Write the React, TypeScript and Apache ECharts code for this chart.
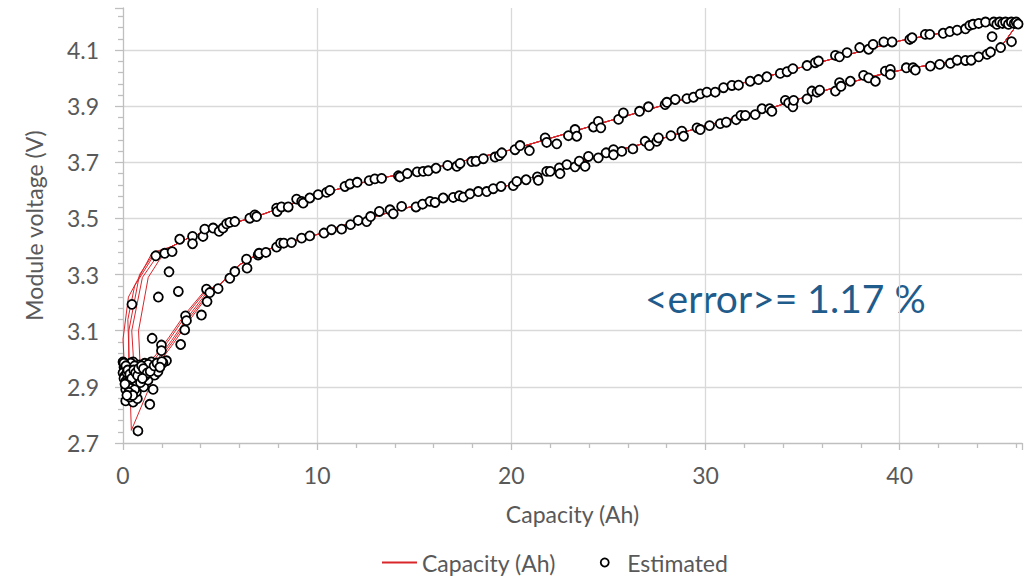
import React, { useEffect, useRef } from "react";
import * as echarts from "echarts";

// ---------- Tick / axis values ----------
const xMin = 0;
const xMax = 46.3;
const xInterval = 10;
const yMin = 2.7;
const yMax = 4.25;
const yInterval = 0.2;

const annotationText = "<error>= 1.17 %";

// ---------- Measured line ("Capacity (Ah)"), shared parts of each cycle ----------
const chargeCommon: number[][] = [
  [2.5, 3.4], [3.5, 3.435], [5, 3.47], [7, 3.51], [10, 3.585], [13, 3.64], [16, 3.68],
  [20, 3.745], [25, 3.847], [30, 3.947], [35, 4.04], [40, 4.133], [43, 4.172], [45, 4.195], [46.1, 4.2],
];
const dischargeCommon: number[][] = [
  [46.1, 4.2], [45.85, 4.172], [45.2, 4.11], [44.5, 4.085], [43, 4.063], [40.5, 4.035], [38.5, 4.005],
  [37, 3.975], [35, 3.93], [33, 3.885], [30, 3.83], [27, 3.77], [25, 3.735], [22, 3.67], [20, 3.62],
  [17, 3.578], [15, 3.545], [12, 3.49], [10, 3.443], [8, 3.405], [7, 3.375], [6, 3.335], [5, 3.265],
];

// low-capacity ends of each cycle
const lowCharge1: number[][] = [[0.1, 2.93], [0.0, 3.07], [0.28, 3.22], [1.5, 3.378]];
const lowCharge2: number[][] = [[0.43, 2.745], [0.25, 3.14], [0.6, 3.26], [1.6, 3.37]];
const lowCharge3: number[][] = [[0.6, 2.93], [0.45, 3.1], [1.0, 3.29], [1.7, 3.36]];
const lowCharge4: number[][] = [[0.9, 2.95], [0.8, 3.1], [1.3, 3.29], [1.85, 3.35]];
const lowCharge5: number[][] = [[0.3, 2.95], [0.3, 3.1], [0.85, 3.3], [1.55, 3.372]];

const lowDischarge1: number[][] = [[4.3, 3.235], [3.3, 3.145], [2.5, 3.065], [1.8, 3.0], [1.0, 2.96], [0.5, 2.935], [0.1, 2.93]];
const lowDischarge2: number[][] = [[4.25, 3.24], [3.2, 3.15], [2.4, 3.07], [1.7, 3.005], [1.37, 2.9], [0.43, 2.745]];
const lowDischarge3: number[][] = [[4.35, 3.23], [3.35, 3.14], [2.55, 3.06], [1.85, 2.995], [1.2, 2.96], [0.6, 2.93]];
const lowDischarge4: number[][] = [[4.4, 3.228], [3.4, 3.135], [2.6, 3.055], [1.9, 2.99], [1.3, 2.96], [0.9, 2.95]];
const lowDischarge5: number[][] = [[4.2, 3.242], [3.15, 3.155], [2.35, 3.075], [1.65, 3.01], [0.9, 2.97], [0.3, 2.95]];

// ---------- Estimated points ----------
const estCharge: number[][] = [
  [1.69, 3.367], [2.15, 3.376], [2.53, 3.382], [2.92, 3.426], [3.58, 3.436], [3.58, 3.41], [4.12, 3.436],
  [4.21, 3.462], [4.64, 3.466], [4.95, 3.454], [5.15, 3.466], [5.33, 3.481], [5.5, 3.486], [5.76, 3.489],
  [6.53, 3.501], [6.79, 3.513], [6.88, 3.507], [7.91, 3.537], [7.94, 3.525], [8.16, 3.541], [8.51, 3.541],
  [8.94, 3.569], [9.2, 3.561], [9.28, 3.555], [9.62, 3.573], [10.05, 3.585], [10.48, 3.593], [10.65, 3.6],
  [11.43, 3.614], [11.69, 3.623], [12.06, 3.629], [12.68, 3.635], [12.97, 3.641], [13.32, 3.643],
  [14.18, 3.652], [14.26, 3.648], [14.64, 3.66], [15.15, 3.666], [15.46, 3.668], [15.72, 3.67],
  [16.12, 3.679], [16.72, 3.689], [17.19, 3.686], [17.36, 3.696], [17.96, 3.703], [18.18, 3.704],
  [18.56, 3.713], [19.16, 3.719], [19.38, 3.724], [19.51, 3.734], [20.19, 3.745], [20.45, 3.76],
  [20.93, 3.742], [21.74, 3.787], [21.82, 3.771], [22.34, 3.766], [22.94, 3.795], [23.28, 3.817],
  [23.37, 3.793], [24.23, 3.826], [24.48, 3.846], [24.61, 3.823], [25.52, 3.853], [25.77, 3.876],
  [26.6, 3.882], [27.06, 3.898], [27.92, 3.906], [28.01, 3.914], [28.44, 3.924], [29.04, 3.927],
  [29.38, 3.932], [29.73, 3.944], [30.07, 3.95], [30.5, 3.95], [30.93, 3.966], [31.36, 3.974],
  [31.7, 3.975], [32.3, 3.989], [32.73, 3.995], [33.16, 4.005], [33.85, 4.017], [34.2, 4.023],
  [34.5, 4.034], [35.23, 4.045], [35.65, 4.055], [35.82, 4.061], [36.69, 4.081], [36.9, 4.076],
  [37.29, 4.091], [37.94, 4.109], [38.4, 4.103], [38.63, 4.12], [39.18, 4.129], [39.61, 4.129],
  [40.52, 4.138], [40.64, 4.144], [41.32, 4.156], [41.55, 4.156], [42.24, 4.16], [42.58, 4.166],
  [42.96, 4.171], [43.39, 4.176], [43.61, 4.188], [43.78, 4.192], [44.07, 4.195], [44.42, 4.2],
  [44.85, 4.2], [45.0, 4.192], [45.15, 4.2], [45.3, 4.195], [45.45, 4.2], [45.6, 4.192], [45.75, 4.2],
  [45.9, 4.195], [46.0, 4.2], [46.1, 4.193],
];

const estDischarge: number[][] = [
  [2.97, 3.051], [3.18, 3.103], [3.22, 3.153], [3.27, 3.136], [4.04, 3.156], [4.33, 3.204], [4.3, 3.248],
  [4.47, 3.236], [4.9, 3.25], [5.5, 3.287], [5.76, 3.311], [6.36, 3.355], [6.39, 3.323], [6.96, 3.37],
  [7.01, 3.376], [7.36, 3.379], [7.91, 3.398], [8.11, 3.412], [8.28, 3.412], [8.68, 3.414], [9.2, 3.43],
  [9.62, 3.438], [10.35, 3.448], [10.74, 3.46], [11.26, 3.462], [11.72, 3.478], [12.11, 3.493],
  [12.55, 3.489], [12.75, 3.507], [13.2, 3.525], [13.75, 3.531], [13.92, 3.517], [14.35, 3.543],
  [15.09, 3.541], [15.43, 3.551], [15.81, 3.561], [16.07, 3.557], [16.49, 3.573], [17.01, 3.575],
  [17.32, 3.581], [17.53, 3.576], [17.87, 3.588], [18.3, 3.596], [18.73, 3.596], [19.07, 3.606],
  [19.47, 3.614], [20.1, 3.617], [20.28, 3.632], [20.76, 3.638], [21.34, 3.648], [21.39, 3.636],
  [21.82, 3.668], [22.0, 3.668], [22.47, 3.68], [22.51, 3.66], [22.86, 3.692], [23.28, 3.684],
  [23.5, 3.704], [23.8, 3.686], [23.97, 3.721], [24.48, 3.716], [24.88, 3.734], [25.26, 3.745],
  [25.26, 3.727], [25.69, 3.739], [26.26, 3.748], [26.89, 3.775], [27.11, 3.76], [27.49, 3.775],
  [27.58, 3.787], [28.22, 3.795], [28.78, 3.811], [28.87, 3.793], [29.56, 3.823], [29.73, 3.817],
  [30.21, 3.831], [30.76, 3.838], [31.07, 3.843], [31.58, 3.852], [31.82, 3.867], [32.05, 3.867],
  [32.56, 3.87], [32.91, 3.891], [33.3, 3.891], [33.42, 3.882], [34.11, 3.921], [34.28, 3.912],
  [34.5, 3.898], [34.54, 3.921], [35.23, 3.926], [35.48, 3.954], [35.74, 3.95], [35.88, 3.957],
  [36.69, 3.954], [36.9, 3.984], [36.98, 3.971], [37.46, 3.989], [38.14, 4.01], [38.4, 4.001],
  [38.75, 3.989], [39.26, 4.025], [39.52, 4.031], [39.52, 4.013], [40.34, 4.037], [40.69, 4.037],
  [40.81, 4.029], [41.58, 4.043], [42.06, 4.049], [42.61, 4.053], [42.96, 4.064], [43.39, 4.063],
  [43.68, 4.064], [44.07, 4.076], [44.5, 4.085], [44.68, 4.093], [45.2, 4.109], [45.76, 4.13],
  [44.76, 4.148],
];

const estLow: number[][] = [
  [0.46, 3.194], [1.82, 3.22], [2.85, 3.24], [2.37, 3.31], [1.5, 3.073], [1.98, 3.049], [1.98, 3.029],
  [2.24, 2.993], [2.06, 2.986], [0.0, 2.989], [0.52, 2.989], [0.05, 2.97], [0.1, 2.96], [0.0, 2.95],
  [0.1, 2.94], [0.05, 2.93], [0.15, 2.92], [0.2, 2.91], [0.14, 2.891], [0.14, 2.85], [0.52, 2.846],
  [0.74, 2.858], [0.35, 2.864], [0.69, 2.882], [0.77, 2.902], [1.07, 2.9], [1.55, 2.891], [1.38, 2.838],
  [0.77, 2.743], [0.6, 2.942], [0.86, 2.93], [1.03, 2.948], [1.2, 2.96], [1.38, 2.969], [1.46, 2.989],
  [1.55, 2.966], [1.72, 2.971], [1.89, 2.984], [1.12, 2.984], [0.86, 2.978], [0.69, 2.966], [0.43, 2.954],
  [0.26, 2.936], [0.35, 2.924], [0.52, 2.912], [1.29, 2.924], [1.63, 2.942], [1.8, 2.954], [0.3, 2.97],
  [0.2, 2.95], [0.95, 2.955], [1.15, 2.94], [0.4, 2.985], [0.6, 2.975], [1.3, 2.98],
  [0.05, 2.985], [0.15, 2.975], [0.25, 2.96], [0.35, 2.945], [0.45, 2.93], [0.55, 2.96], [0.65, 2.95],
  [0.75, 2.94], [0.8, 2.965], [0.95, 2.975], [1.05, 2.965], [1.25, 2.95], [1.4, 2.955], [1.6, 2.975],
  [1.75, 2.985], [2.0, 2.99], [1.9, 2.97], [0.25, 2.905], [0.4, 2.895], [0.6, 2.89], [0.9, 2.915],
  [1.0, 2.93], [0.1, 2.91], [0.3, 2.88], [0.5, 2.87], [0.2, 2.87],
];

const cycles: number[][][] = [
  [...lowCharge1, ...chargeCommon, ...dischargeCommon, ...lowDischarge1],
  [...lowCharge2, ...chargeCommon, ...dischargeCommon, ...lowDischarge2],
  [...lowCharge3, ...chargeCommon, ...dischargeCommon, ...lowDischarge3],
  [...lowCharge4, ...chargeCommon, ...dischargeCommon, ...lowDischarge4],
  [...lowCharge5, ...chargeCommon, ...dischargeCommon, ...lowDischarge5],
];

const FONT = "Lato";
const TEXT_COLOR = "#595959";
const RED = "#d9262b";
const FS = 23;

export default function App() {
  const ref = useRef<HTMLDivElement>(null);

  useEffect(() => {
    if (!ref.current) return;
    const chart = echarts.init(ref.current, undefined, { renderer: "svg" });

    const lineSeries = cycles.map((c) => ({
      name: "Capacity (Ah)",
      type: "line",
      data: c,
      symbol: "none",
      showSymbol: false,
      lineStyle: { color: RED, width: 1 },
      itemStyle: { color: RED },
      z: 2,
    }));

    const option: any = {
      animation: false,
      textStyle: { fontFamily: FONT },
      grid: { left: 123, right: 3, top: 8, bottom: 135, containLabel: false },
      legend: {
        data: [
          { name: "Capacity (Ah)", itemStyle: { opacity: 0 } },
          { name: "Estimated", icon: "circle", itemStyle: { color: "#ffffff", borderColor: "#000", borderWidth: 1.8 } },
        ],
        left: 381,
        top: 551,
        padding: 0,
        itemWidth: 35,
        itemHeight: 8,
        itemGap: 44,
        textStyle: { fontFamily: FONT, fontSize: FS, color: TEXT_COLOR },
      },
      xAxis: {
        type: "value",
        min: xMin,
        max: xMax,
        interval: xInterval,
        name: "Capacity (Ah)",
        nameLocation: "middle",
        nameGap: 59,
        nameTextStyle: { fontFamily: FONT, fontSize: FS, color: TEXT_COLOR },
        axisLine: { show: true, lineStyle: { color: "#bfbfbf", width: 1.3 } },
        axisTick: { show: true, length: 7, lineStyle: { color: "#bfbfbf", width: 1.3 } },
        minorTick: { show: true, splitNumber: 5, length: 5, lineStyle: { color: "#bfbfbf", width: 1.3 } },
        axisLabel: { fontFamily: FONT, fontSize: FS, color: TEXT_COLOR, margin: 20, showMaxLabel: false },
        splitLine: { show: true, showMinLine: false, showMaxLine: false, lineStyle: { color: "#d9d9d9", width: 1.3 } },
      },
      yAxis: {
        type: "value",
        min: yMin,
        max: yMax,
        interval: yInterval,
        name: "Module voltage (V)",
        nameLocation: "middle",
        nameGap: 78,
        nameRotate: 90,
        nameTextStyle: { fontFamily: FONT, fontSize: FS, color: TEXT_COLOR },
        axisLine: { show: true, lineStyle: { color: "#bfbfbf", width: 1.3 } },
        axisTick: { show: true, length: 8, lineStyle: { color: "#bfbfbf", width: 1.3 } },
        minorTick: { show: true, splitNumber: 5, length: 5, lineStyle: { color: "#bfbfbf", width: 1.3 } },
        axisLabel: {
          fontFamily: FONT,
          fontSize: FS,
          color: TEXT_COLOR,
          margin: 24,
          showMaxLabel: false,
          formatter: (v: number) => v.toFixed(1),
        },
        splitLine: { show: true, showMinLine: false, showMaxLine: false, lineStyle: { color: "#d9d9d9", width: 1.3 } },
      },
      graphic: [
        {
          type: "text",
          left: 645,
          top: 278,
          style: {
            text: annotationText,
            fontFamily: FONT,
            fontSize: 39,
            fill: "#1f5c8b",
          },
        },
      ],
      series: [
        ...lineSeries,
        {
          name: "Estimated",
          type: "scatter",
          data: [...estLow, ...estCharge, ...estDischarge],
          symbol: "circle",
          symbolSize: 9,
          itemStyle: { color: "#ffffff", borderColor: "#000000", borderWidth: 1.8, opacity: 1 },
          z: 3,
        },
      ],
    };

    chart.setOption(option);
    return () => chart.dispose();
  }, []);

  return (
    <div
      ref={ref}
      style={{ position: "absolute", left: 0, top: 0, width: 1025, height: 578, background: "#fff" }}
    />
  );
}
